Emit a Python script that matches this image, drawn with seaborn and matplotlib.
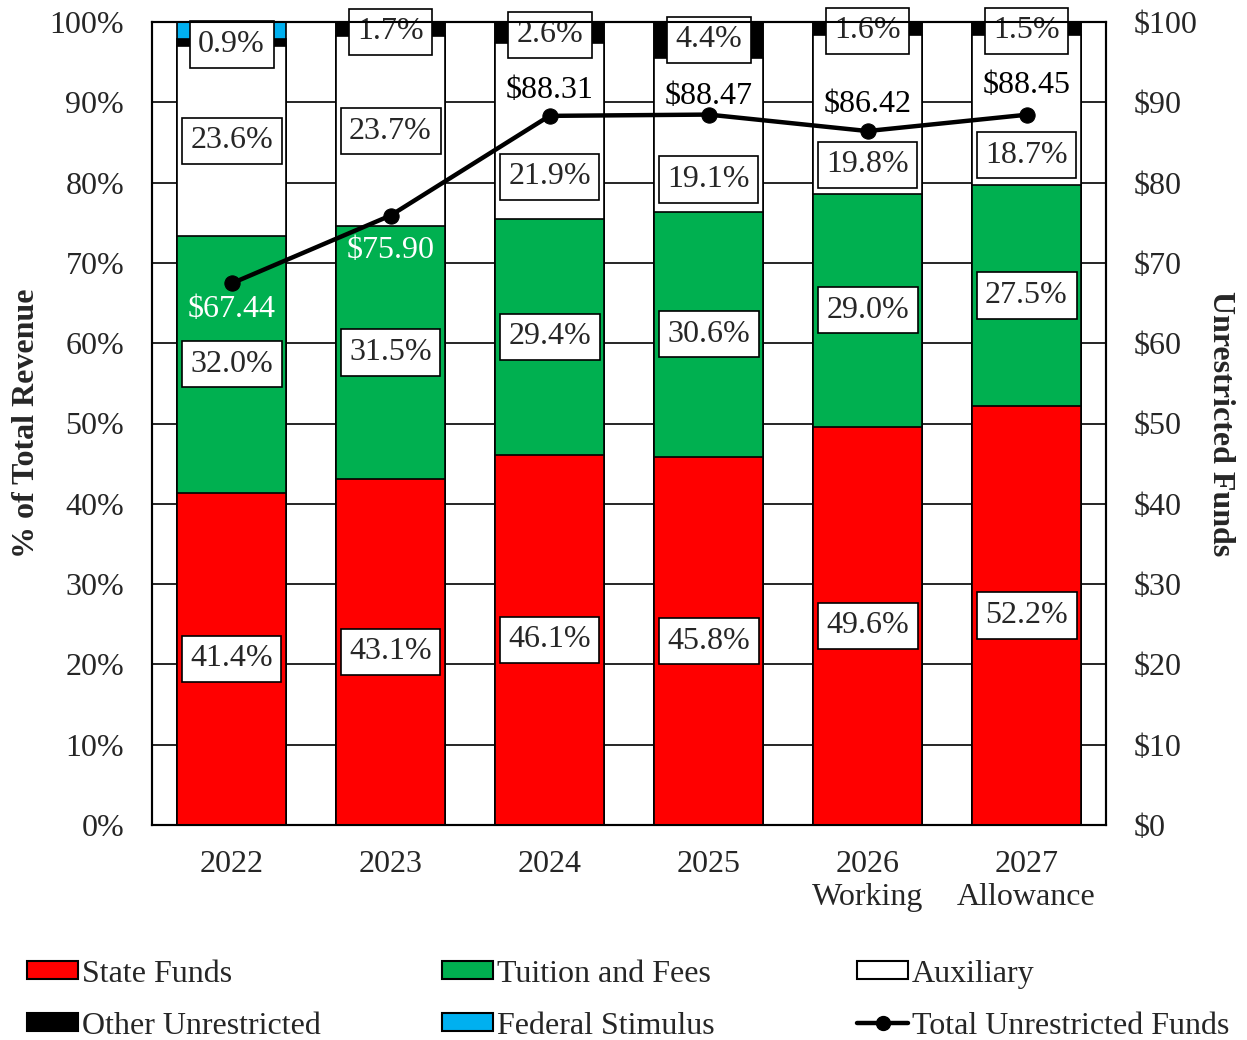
import numpy as np
import pandas as pd
import seaborn as sns
import matplotlib
matplotlib.use("Agg")
import matplotlib.pyplot as plt
from matplotlib.patches import Patch
from matplotlib.lines import Line2D

# ---------------- data ----------------
years = ["2022", "2023", "2024", "2025", "2026\nWorking", "2027\nAllowance"]
state_funds = [41.4, 43.1, 46.1, 45.8, 49.6, 52.2]
tuition_fees = [32.0, 31.5, 29.4, 30.6, 29.0, 27.5]
auxiliary = [23.6, 23.7, 21.9, 19.1, 19.8, 18.7]
other_unrestricted = [0.9, 1.7, 2.6, 4.4, 1.6, 1.5]
federal_stimulus = [2.1, 0.0, 0.0, 0.0, 0.0, 0.0]
total_funds = [67.44, 75.90, 88.31, 88.47, 86.42, 88.45]
pct_ticks = [0, 10, 20, 30, 40, 50, 60, 70, 80, 90, 100]
usd_ticks = [0, 10, 20, 30, 40, 50, 60, 70, 80, 90, 100]

# ---------------- layout / style ----------------
aux_label_y = [85.2, 86.4, 80.7, 80.4, 82.2, 83.4]
top_label_y = [97.2, 98.8, 98.4, 97.8, 98.9, 98.9]
line_label_dy = [-19, -25, 18, 13, 19, 21]   # points
line_label_color = ["white", "white", "black", "black", "black", "black"]

C_RED = "#FF0000"
C_GREEN = "#00B050"
C_WHITE = "#FFFFFF"
C_BLACK = "#000000"
C_BLUE = "#00B0F0"
FS = 23

sns.set_style("white")
plt.rcParams["font.family"] = ["Liberation Serif", "DejaVu Serif"]
plt.rcParams["font.size"] = FS

fig = plt.figure(figsize=(12.47, 10.40), dpi=100)
ax = fig.add_axes([152 / 1247, 1 - 825 / 1040, (1106 - 152) / 1247, (825 - 22) / 1040])

df = pd.DataFrame({
    "year": years,
    "state": state_funds,
    "tuition": tuition_fees,
    "aux": auxiliary,
    "other": other_unrestricted,
    "fed": federal_stimulus,
})
df["c1"] = df["state"]
df["c2"] = df["c1"] + df["tuition"]
df["c3"] = df["c2"] + df["aux"]
df["c4"] = df["c3"] + df["other"]
df["c5"] = df["c4"] + df["fed"]

layers = [("c5", C_BLUE), ("c4", C_BLACK), ("c3", C_WHITE), ("c2", C_GREEN), ("c1", C_RED)]
for col, colr in layers:
    sns.barplot(data=df, x="year", y=col, color=colr, width=0.68, edgecolor="black",
                linewidth=1.2, saturation=1, ax=ax, zorder=3, order=years)

ax.set_xlim(-0.5, 5.5)
ax.set_ylim(0, 100)
ax.set_yticks(pct_ticks)
ax.set_yticklabels([f"{t}%" for t in pct_ticks])
ax.yaxis.grid(True, color="black", linewidth=1.2, zorder=0)
ax.set_axisbelow(True)
ax.set_xticks(np.arange(6))
ax.set_xticklabels(years, linespacing=1.2)
ax.set_xticks(np.arange(-0.5, 6.0, 1.0), minor=True)
ax.tick_params(axis="x", which="major", length=0, pad=18)
ax.tick_params(axis="x", which="minor", length=8, width=1.5, direction="out", color="black")
ax.tick_params(axis="y", length=0, pad=20)
ax.set_xlabel("")
ax.set_ylabel("% of Total Revenue", fontweight="bold", labelpad=6)
for s in ax.spines.values():
    s.set_visible(True)
    s.set_color("black")
    s.set_linewidth(1.5)

box = dict(boxstyle="square,pad=0.27", facecolor="white", edgecolor="black", linewidth=1.2)
for i in range(6):
    ax.text(i, df["c1"][i] / 2, f"{state_funds[i]:.1f}%", ha="center", va="center", bbox=box, zorder=6)
    ax.text(i, df["c1"][i] + tuition_fees[i] / 2, f"{tuition_fees[i]:.1f}%", ha="center", va="center", bbox=box, zorder=6)
    ax.text(i, aux_label_y[i], f"{auxiliary[i]:.1f}%", ha="center", va="center", bbox=box, zorder=6)
    ax.text(i, top_label_y[i], f"{other_unrestricted[i]:.1f}%", ha="center", va="center", bbox=box, zorder=6, clip_on=False)

ax2 = ax.twinx()
sns.lineplot(x=np.arange(6), y=total_funds, color="black", linewidth=3.2, marker="o",
             markersize=11, markeredgecolor="black", ax=ax2, zorder=5)
ax2.set_ylim(0, 100)
ax2.set_yticks(usd_ticks)
ax2.set_yticklabels([f"${t}" for t in usd_ticks])
ax2.tick_params(axis="y", length=0, pad=20)
ax2.set_ylabel("Unrestricted Funds", fontweight="bold", rotation=270, labelpad=27)
ax2.grid(False)
for s in ax2.spines.values():
    s.set_visible(True)
    s.set_color("black")
    s.set_linewidth(1.5)
for i in range(6):
    ax2.annotate(f"${total_funds[i]:.2f}", (i, total_funds[i]), xytext=(0, line_label_dy[i]),
                 textcoords="offset points", ha="center", va="center", color=line_label_color[i], zorder=7)

def patch(c):
    return Patch(facecolor=c, edgecolor="black", linewidth=1.5)

cols = [
    ([patch(C_RED), patch(C_BLACK)], ["State Funds", "Other Unrestricted"], 8),
    ([patch(C_GREEN), patch(C_BLUE)], ["Tuition and Fees", "Federal Stimulus"], 423),
    ([patch(C_WHITE), Line2D([], [], color="black", linewidth=3.2, marker="o", markersize=10)],
     ["Auxiliary", "Total Unrestricted Funds"], 838),
]
for handles, labels, x0 in cols:
    fig.legend(handles, labels, loc="lower left", bbox_to_anchor=(x0 / 1247, -0.019),
               frameon=False, handlelength=1.6, handleheight=0.5, handletextpad=0.12,
               labelspacing=0.72, borderaxespad=0.2, fontsize=FS)

fig.savefig("out.png", dpi=100)
